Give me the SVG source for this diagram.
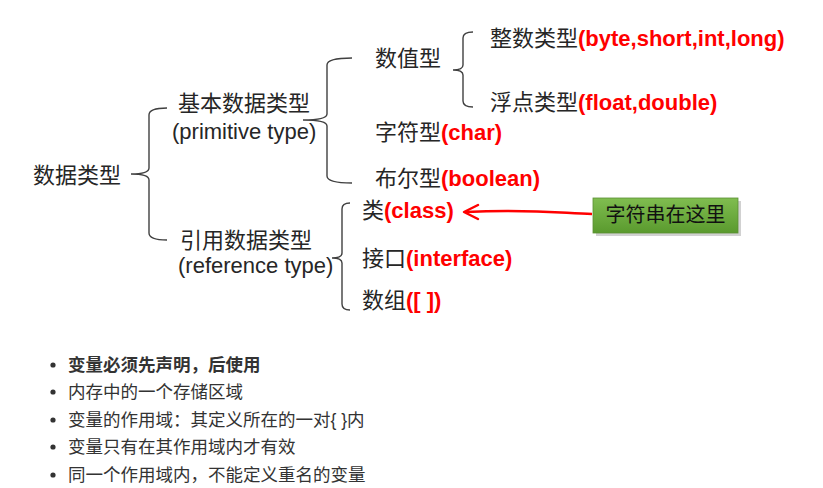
<svg xmlns="http://www.w3.org/2000/svg" width="823" height="488" viewBox="0 0 823 488">
<defs>
<linearGradient id="g" x1="0" y1="0" x2="0" y2="1">
<stop offset="0" stop-color="#80bd50"/>
<stop offset="1" stop-color="#5a9a2e"/>
</linearGradient>
<style>
text{font-family:"Liberation Sans","Noto Sans CJK SC",sans-serif;}
.t{font-size:22px;fill:#262626;}
.r{fill:#ff0000;font-weight:bold;}
.b{fill:none;stroke:#404040;stroke-width:1.4;}
.li{font-size:17.5px;fill:#333;}
.dot{fill:#333;}
</style>
</defs>
<rect width="823" height="488" fill="#ffffff"/>
<g id="connectors">
<path class="b" d="M167,108 Q149,108 149,115 L149,168 Q149,174 131,174 Q149,174 149,180 L149,233 Q149,240 167,240"/>
<path class="b" d="M352,58 Q327,58 327,65 L327,114 Q327,120 303,120 Q327,120 327,126 L327,176 Q327,183 352,183"/>
<path class="b" d="M473,32 Q463,32 463,38 L463,65 Q463,70 453,70 Q463,70 463,75 L463,101 Q463,107 473,107"/>
<path class="b" d="M350,203 Q342,203 342,209 L342,253 Q342,258 332,258 Q342,258 342,263 L342,304 Q342,310 350,310"/>
<path d="M592,214 C560,213 530,209 466,212" fill="none" stroke="#ff0000" stroke-width="2.5"/>
<path d="M478,205 L464,212 L478,219" fill="none" stroke="#ff0000" stroke-width="2.5" stroke-linejoin="round" stroke-linecap="round"/>
</g>
<g id="root"><text class="t" x="33" y="183">数据类型</text></g>
<g id="primitive"><text class="t" x="178" y="111">基本数据类型</text><text class="t" x="172" y="139">(primitive type)</text></g>
<g id="numeric"><text class="t" x="375" y="66">数值型</text></g>
<g id="integer"><text class="t" x="490" y="46">整数类型<tspan class="r">(byte,short,int,long)</tspan></text></g>
<g id="float"><text class="t" x="490" y="110">浮点类型<tspan class="r">(float,double)</tspan></text></g>
<g id="char"><text class="t" x="375" y="140">字符型<tspan class="r">(char)</tspan></text></g>
<g id="boolean"><text class="t" x="375" y="186">布尔型<tspan class="r">(boolean)</tspan></text></g>
<g id="reference"><text class="t" x="180" y="248">引用数据类型</text><text class="t" x="178" y="273">(reference type)</text></g>
<g id="class"><text class="t" x="362" y="218">类<tspan class="r">(class)</tspan></text></g>
<g id="interface"><text class="t" x="362" y="266">接口<tspan class="r">(interface)</tspan></text></g>
<g id="array"><text class="t" x="362" y="308">数组<tspan class="r">([ ])</tspan></text></g>
<g id="note">
<rect x="596" y="201" width="145" height="35" fill="#999" opacity="0.45"/>
<rect x="593" y="198" width="145" height="35" fill="url(#g)" stroke="#5b9033" stroke-width="0.8"/>
<text x="665.5" y="222" text-anchor="middle" style="font-size:20px;fill:#111;">字符串在这里</text>
</g>
<g id="bullets">
<circle class="dot" cx="53" cy="365" r="2.6"/>
<circle class="dot" cx="53" cy="392" r="2.6"/>
<circle class="dot" cx="53" cy="420" r="2.6"/>
<circle class="dot" cx="53" cy="447" r="2.6"/>
<circle class="dot" cx="53" cy="475" r="2.6"/>
<text class="li" x="68" y="371" font-weight="bold">变量必须先声明，后使用</text>
<text class="li" x="68" y="398">内存中的一个存储区域</text>
<text class="li" x="68" y="426">变量的作用域：其定义所在的一对{ }内</text>
<text class="li" x="68" y="453">变量只有在其作用域内才有效</text>
<text class="li" x="68" y="481">同一个作用域内，不能定义重名的变量</text>
</g>
</svg>
